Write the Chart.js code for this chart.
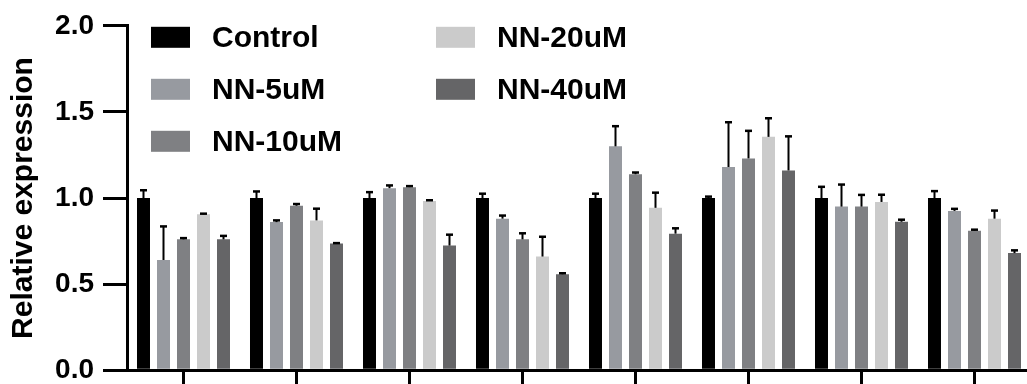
<!DOCTYPE html>
<html>
<head>
<meta charset="utf-8">
<script src="https://cdn.jsdelivr.net/npm/chart.js@4/dist/chart.umd.min.js"></script>
<style>
  html, body { margin: 0; overflow: hidden; background: #fff; }
  canvas { display: block; }
</style>
</head>
<body>
<canvas id="myChart" width="1032" height="396"></canvas>
<script>
// groups (axis labels are cut off in the original, so they are not shown)
var categories = ['1', '2', '3', '4', '5', '6', '7', '8'];
var seriesNames = ['Control', 'NN-5uM', 'NN-10uM', 'NN-20uM', 'NN-40uM'];
var seriesColors = ['#000000', '#979aa0', '#7f8083', '#cbcbcb', '#656567'];

var control = [1.0, 1.0, 1.0, 1.0, 1.0, 1.0, 1.0, 1.0];
var nn5 = [0.64, 0.86, 1.057, 0.88, 1.30, 1.18, 0.95, 0.925];
var nn10 = [0.76, 0.955, 1.063, 0.76, 1.138, 1.23, 0.95, 0.81];
var nn20 = [0.905, 0.87, 0.983, 0.66, 0.943, 1.355, 0.977, 0.88];
var nn40 = [0.76, 0.736, 0.724, 0.557, 0.793, 1.16, 0.862, 0.68];

// upper error (SD)
var controlErr = [0.045, 0.038, 0.034, 0.025, 0.025, 0.008, 0.065, 0.04];
var nn5Err = [0.195, 0.01, 0.016, 0.018, 0.117, 0.26, 0.128, 0.012];
var nn10Err = [0.007, 0.01, 0.006, 0.035, 0.01, 0.16, 0.068, 0.006];
var nn20Err = [0.004, 0.068, 0.004, 0.115, 0.088, 0.108, 0.042, 0.047];
var nn40Err = [0.02, 0.002, 0.063, 0.006, 0.031, 0.198, 0.012, 0.016];

var yTicks = [0, 0.5, 1.0, 1.5, 2.0];

var values = [control, nn5, nn10, nn20, nn40];
var errors = [controlErr, nn5Err, nn10Err, nn20Err, nn40Err];

var FONT = '"Liberation Sans", Arial, sans-serif';

var errorBars = {
  id: 'errorBars',
  afterDatasetsDraw: function (chart) {
    var ctx = chart.ctx;
    var y = chart.scales.y;
    ctx.save();
    ctx.strokeStyle = '#000';
    chart.data.datasets.forEach(function (ds, i) {
      var meta = chart.getDatasetMeta(i);
      meta.data.forEach(function (bar, j) {
        var top = y.getPixelForValue(ds.data[j]);
        var end = y.getPixelForValue(ds.data[j] + ds.err[j]);
        ctx.lineWidth = 2;
        ctx.beginPath();
        ctx.moveTo(bar.x, top);
        ctx.lineTo(bar.x, end);
        ctx.stroke();
        ctx.lineWidth = 2.5;
        ctx.beginPath();
        ctx.moveTo(bar.x - 3.5, end);
        ctx.lineTo(bar.x + 3.5, end);
        ctx.stroke();
      });
    });
    ctx.restore();
  }
};

var boxLegend = {
  id: 'boxLegend',
  afterDraw: function (chart) {
    var ctx = chart.ctx;
    var area = chart.chartArea;
    ctx.save();
    ctx.font = 'bold 30px ' + FONT;
    ctx.textBaseline = 'middle';
    ctx.textAlign = 'left';
    chart.data.datasets.forEach(function (ds, i) {
      var col = Math.floor(i / 3);
      var row = i % 3;
      var bx = area.left + 24 + col * 285;
      var by = area.top + 1 + row * 52;
      ctx.fillStyle = ds.backgroundColor;
      ctx.fillRect(bx, by, 39, 21);
      ctx.fillStyle = '#000';
      ctx.fillText(ds.label, bx + 61, by + 12);
    });
    ctx.restore();
  }
};

var ctx = document.getElementById('myChart').getContext('2d');
var myChart = new Chart(ctx, {
  type: 'bar',
  data: {
    labels: categories,
    datasets: seriesNames.map(function (name, i) {
      return {
        label: name,
        data: values[i],
        err: errors[i],
        backgroundColor: seriesColors[i],
        borderWidth: 0,
        categoryPercentage: 0.885,
        barPercentage: 0.65
      };
    })
  },
  options: {
    responsive: false,
    animation: false,
    layout: { padding: { top: 22, right: 1, bottom: 0, left: 0 } },
    plugins: {
      legend: { display: false },
      tooltip: { enabled: false }
    },
    scales: {
      x: {
        offset: true,
        afterFit: function (scale) { scale.height = 14; },
        grid: {
          offset: false,
          drawOnChartArea: false,
          color: '#000',
          lineWidth: 3,
          tickLength: 14
        },
        border: { display: true, color: '#000', width: 3 },
        ticks: { display: false }
      },
      y: {
        min: 0,
        max: 2,
        afterBuildTicks: function (scale) {
          scale.ticks = yTicks.map(function (v) { return { value: v }; });
        },
        afterFit: function (scale) { scale.width = 127; },
        grid: {
          drawOnChartArea: false,
          color: '#000',
          lineWidth: 3,
          tickLength: 24
        },
        border: { display: true, color: '#000', width: 3 },
        ticks: {
          padding: 9,
          color: '#000',
          font: { family: FONT, size: 28, weight: 'bold' },
          callback: function (v) { return Number(v).toFixed(1); }
        },
        title: {
          display: true,
          text: 'Relative expression',
          color: '#000',
          padding: { top: 6, bottom: 0 },
          font: { family: FONT, size: 30, weight: 'bold' }
        }
      }
    }
  },
  plugins: [errorBars, boxLegend]
});
</script>
</body>
</html>
